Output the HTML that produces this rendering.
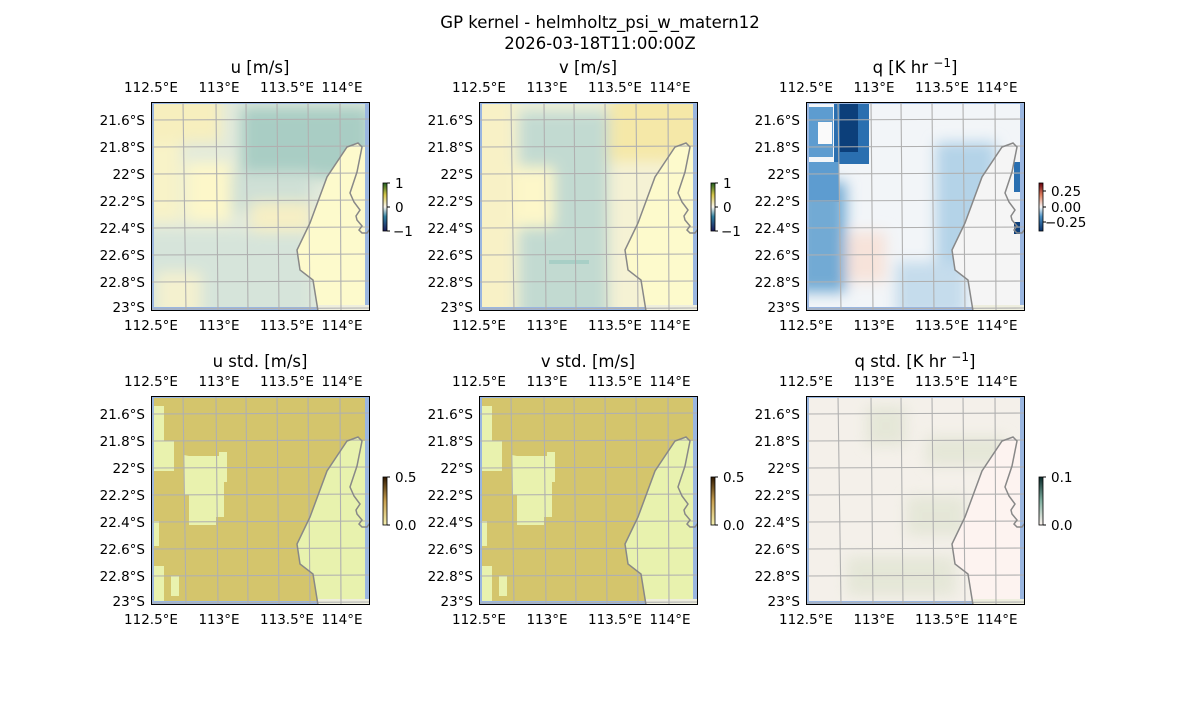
<!DOCTYPE html>
<html><head><meta charset="utf-8"><style>
body{margin:0;background:#fff}
svg text{font-family:"DejaVu Sans","Liberation Sans",sans-serif;fill:#000}
</style></head><body>
<svg width="1200" height="700" viewBox="0 0 1200 700" xmlns="http://www.w3.org/2000/svg">
<defs>
<filter id="bl" x="-20%" y="-20%" width="140%" height="140%"><feGaussianBlur stdDeviation="7"/></filter>
<g id="land"><path d="M167,209 L162,178 L149,168 L146,148 L159,121 L176,75 L196,45 L207,41 L211,45 L219,45 L219,209 Z"/></g>
<g id="over">
 <path d="M0,0 H219 V2 H0Z M0,0 H3 V209 H0Z M214,0 H219 V209 H214Z" fill="#9ab6e0"/>
 <path d="M0,205 H167 V209 H0Z" fill="#9ab6e0"/>
 <rect x="167" y="203" width="52" height="6" fill="#eeeede"/>
 <g stroke="#b0b0b0" stroke-width="1.1" fill="none">
  <path d="M32,0 L35,209 M65,0 L67,209 M95,0 L97,209 M126,0 L128,209 M157,0 L159,209 M189,0 L190,209"/>
  <path d="M0,18 L219,17 M0,45 L219,44 M0,72 L219,71 M0,99 L219,98 M0,126 L219,125 M0,153 L219,152 M0,180 L219,179 M0,207 L219,206"/>
 </g>
 <path d="M167,209 L162,178 L149,168 L146,148 L159,121 L176,75 L196,45 L207,41 L211,45 L206,70 L199,91 L203,100 L209,108 L205,114 L206,118 L211,124 L208,128 L211,131 L216,131 L219,127" fill="none" stroke="#888" stroke-width="1.5"/>
 <rect x="0.5" y="0.5" width="218" height="208" fill="none" stroke="#000" stroke-width="1"/>
</g>
<g id="ticks" font-size="13.5">
 <g text-anchor="middle">
 <text x="0" y="-10">112.5°E</text><text x="68" y="-10">113°E</text><text x="136" y="-10">113.5°E</text><text x="191" y="-10">114°E</text>
 <text x="0" y="228">112.5°E</text><text x="68" y="228">113°E</text><text x="136" y="228">113.5°E</text><text x="191" y="228">114°E</text>
 </g>
 <g text-anchor="end">
 <text x="-6" y="23">21.6°S</text><text x="-6" y="50">21.8°S</text><text x="-6" y="77">22°S</text><text x="-6" y="104">22.2°S</text><text x="-6" y="131">22.4°S</text><text x="-6" y="158">22.6°S</text><text x="-6" y="185">22.8°S</text><text x="-6" y="210">23°S</text>
 </g>
</g>
<linearGradient id="cbv" x1="0" y1="1" x2="0" y2="0"><stop offset="0" stop-color="#1a1a5a"/><stop offset="0.3" stop-color="#2f7fa0"/><stop offset="0.5" stop-color="#fbf7ee"/><stop offset="0.75" stop-color="#d6c64a"/><stop offset="1" stop-color="#1f5f1f"/></linearGradient>
<linearGradient id="cbq" x1="0" y1="1" x2="0" y2="0"><stop offset="0" stop-color="#08306b"/><stop offset="0.3" stop-color="#4a90c4"/><stop offset="0.5" stop-color="#f7f7f7"/><stop offset="0.75" stop-color="#e08060"/><stop offset="1" stop-color="#67000d"/></linearGradient>
<linearGradient id="cbs" x1="0" y1="1" x2="0" y2="0"><stop offset="0" stop-color="#f5f0b0"/><stop offset="0.5" stop-color="#c8a050"/><stop offset="1" stop-color="#301800"/></linearGradient>
<linearGradient id="cbqs" x1="0" y1="1" x2="0" y2="0"><stop offset="0" stop-color="#fff5f0"/><stop offset="0.5" stop-color="#80b0a0"/><stop offset="1" stop-color="#0a2a2a"/></linearGradient>
</defs>

<text x="600" y="28" font-size="16.5" text-anchor="middle">GP kernel - helmholtz_psi_w_matern12</text>
<text x="600" y="49" font-size="16.5" text-anchor="middle">2026-03-18T11:00:00Z</text>

<!-- u -->
<text x="260" y="73" font-size="16.5" text-anchor="middle">u [m/s]</text>
<svg x="151" y="102" width="219" height="209" overflow="hidden">
 <rect width="219" height="209" fill="#e2eadc"/>
 <g filter="url(#bl)">
  <rect x="90" y="5" width="129" height="70" fill="#a9cdc4"/>
  <rect x="60" y="70" width="100" height="40" fill="#cfe0d6"/>
  <rect x="-10" y="-10" width="80" height="50" fill="#f7efbe"/>
  <rect x="-10" y="40" width="40" height="80" fill="#f8f3c8"/>
  <rect x="35" y="60" width="45" height="60" fill="#fdf7c9"/>
  <rect x="100" y="100" width="60" height="40" fill="#f6efc4"/>
  <rect x="-10" y="130" width="170" height="85" fill="#d6e4da"/>
  <rect x="5" y="170" width="45" height="45" fill="#f4f1cf"/>
 </g>
 <use href="#land" fill="#fdfacc"/>
 <use href="#over"/>
</svg>
<g transform="translate(151,102)"><use href="#ticks"/></g>
<rect x="383" y="183" width="4" height="48" fill="url(#cbv)" stroke="#000" stroke-width="0.8"/>
<g font-size="13.5"><text x="395" y="188">1</text><text x="395" y="212">0</text><text x="393" y="236">−1</text></g>
<path d="M387,183h3M387,207h3M387,231h3" stroke="#000"/>

<!-- v -->
<text x="588" y="73" font-size="16.5" text-anchor="middle">v [m/s]</text>
<svg x="479" y="102" width="219" height="209" overflow="hidden">
 <rect width="219" height="209" fill="#eef0d8"/>
 <g filter="url(#bl)">
  <rect x="40" y="10" width="90" height="210" fill="#c2dad1"/>
  <rect x="-10" y="-10" width="45" height="230" fill="#f8f1c6"/>
  <rect x="35" y="65" width="40" height="60" fill="#fdf7c9"/>
  <rect x="130" y="-10" width="99" height="70" fill="#f5e8a8"/>
  <rect x="130" y="60" width="60" height="160" fill="#f5f2d4"/>
 </g>
 <rect x="70" y="158" width="40" height="4" fill="#a8cfc6"/>
 <use href="#land" fill="#fdfacc"/>
 <use href="#over"/>
</svg>
<g transform="translate(479,102)"><use href="#ticks"/></g>
<rect x="711" y="183" width="4" height="48" fill="url(#cbv)" stroke="#000" stroke-width="0.8"/>
<g font-size="13.5"><text x="723" y="188">1</text><text x="723" y="212">0</text><text x="721" y="236">−1</text></g>
<path d="M715,183h3M715,207h3M715,231h3" stroke="#000"/>

<!-- q -->
<text x="915" y="73" font-size="16.5" text-anchor="middle">q [K hr <tspan dy="-6" font-size="12">−1</tspan><tspan dy="6">]</tspan></text>
<svg x="806" y="102" width="219" height="209" overflow="hidden">
 <rect width="219" height="209" fill="#f2f5f8"/>
 <g filter="url(#bl)">
  <rect x="-10" y="80" width="50" height="110" fill="#72aad4"/>
  <rect x="130" y="40" width="60" height="130" fill="#b4d3e8"/>
  <rect x="90" y="160" width="70" height="55" fill="#c5dcec"/>
  <rect x="40" y="130" width="40" height="50" fill="#f7e3da"/>
 </g>
 <rect x="28" y="2" width="35" height="60" fill="#2a6fb0"/>
 <rect x="34" y="0" width="18" height="50" fill="#0c3f7a"/>
 <rect x="3" y="5" width="24" height="50" fill="#5d9cd0"/>
 <rect x="12" y="20" width="14" height="22" fill="#fafafa"/>
 <rect x="3" y="60" width="30" height="40" fill="#5d9cd0"/>
 <use href="#land" fill="#f5f5f5"/>
 <rect x="208" y="60" width="8" height="30" fill="#2a6fb0"/>
 <rect x="208" y="120" width="8" height="12" fill="#0c3f7a"/>
 <use href="#over"/>
</svg>
<g transform="translate(806,102)"><use href="#ticks"/></g>
<rect x="1039" y="183" width="4" height="48" fill="url(#cbq)" stroke="#000" stroke-width="0.8"/>
<g font-size="13.5"><text x="1051" y="196">0.25</text><text x="1051" y="212">0.00</text><text x="1045" y="227">−0.25</text></g>
<path d="M1043,191h3M1043,207h3M1043,222h3" stroke="#000"/>

<!-- u std -->
<text x="260" y="367" font-size="16.5" text-anchor="middle">u std. [m/s]</text>
<svg x="151" y="396" width="219" height="209" overflow="hidden">
 <rect width="219" height="209" fill="#d4c56c"/>
 <g fill="#e9f2ae">
  <path d="M3,10 h10 v35 h10 v30 h-20Z"/>
  <path d="M38,60 h30 v-4 h8 v30 h-3 v35 h-8 v8 h-27 v-30 h-5 v-40 Z"/>
  <path d="M3,170 h10 v35 h-10Z"/>
  <path d="M20,180 h8 v20 h-8Z"/>
  <path d="M0,125 h8 v25 h-8Z"/>
 </g>
 <use href="#land" fill="#e8f2ae"/>
 <use href="#over"/>
</svg>
<g transform="translate(151,396)"><use href="#ticks"/></g>
<rect x="383" y="477" width="4" height="48" fill="url(#cbs)" stroke="#000" stroke-width="0.8"/>
<g font-size="13.5"><text x="395" y="482">0.5</text><text x="395" y="530">0.0</text></g>
<path d="M387,477h3M387,525h3" stroke="#000"/>

<!-- v std -->
<text x="588" y="367" font-size="16.5" text-anchor="middle">v std. [m/s]</text>
<svg x="479" y="396" width="219" height="209" overflow="hidden">
 <rect width="219" height="209" fill="#d4c56c"/>
 <g fill="#e9f2ae">
  <path d="M3,10 h10 v35 h10 v30 h-20Z"/>
  <path d="M38,60 h30 v-4 h8 v30 h-3 v35 h-8 v8 h-27 v-30 h-5 v-40 Z"/>
  <path d="M3,170 h10 v35 h-10Z"/>
  <path d="M20,180 h8 v20 h-8Z"/>
  <path d="M0,125 h8 v25 h-8Z"/>
 </g>
 <use href="#land" fill="#e8f2ae"/>
 <use href="#over"/>
</svg>
<g transform="translate(479,396)"><use href="#ticks"/></g>
<rect x="711" y="477" width="4" height="48" fill="url(#cbs)" stroke="#000" stroke-width="0.8"/>
<g font-size="13.5"><text x="723" y="482">0.5</text><text x="723" y="530">0.0</text></g>
<path d="M715,477h3M715,525h3" stroke="#000"/>

<!-- q std -->
<text x="915" y="367" font-size="16.5" text-anchor="middle">q std. [K hr <tspan dy="-6" font-size="12">−1</tspan><tspan dy="6">]</tspan></text>
<svg x="806" y="396" width="219" height="209" overflow="hidden">
 <rect width="219" height="209" fill="#f4f0ea"/>
 <g filter="url(#bl)" opacity="0.7">
  <rect x="60" y="10" width="40" height="40" fill="#dfe3d0"/>
  <rect x="120" y="40" width="80" height="30" fill="#dfe3d0"/>
  <rect x="100" y="100" width="60" height="40" fill="#dfe3d0"/>
  <rect x="40" y="160" width="110" height="40" fill="#dfe3d0"/>
 </g>
 <use href="#land" fill="#fdf3f0"/>
 <use href="#over"/>
</svg>
<g transform="translate(806,396)"><use href="#ticks"/></g>
<rect x="1039" y="477" width="4" height="48" fill="url(#cbqs)" stroke="#000" stroke-width="0.8"/>
<g font-size="13.5"><text x="1051" y="482">0.1</text><text x="1051" y="530">0.0</text></g>
<path d="M1043,477h3M1043,525h3" stroke="#000"/>
</svg>
</body></html>
